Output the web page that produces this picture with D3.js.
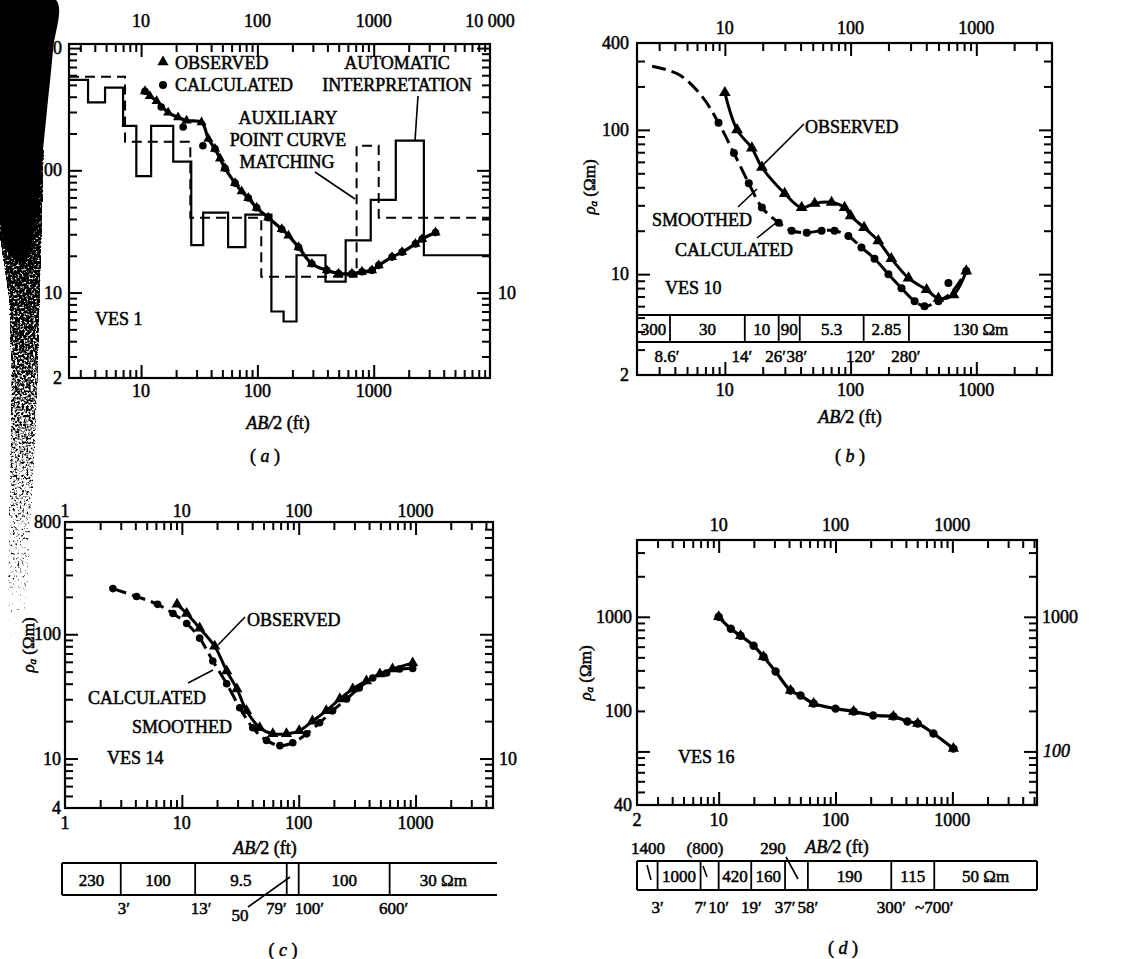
<!DOCTYPE html>
<html><head><meta charset="utf-8">
<script src="https://cdn.jsdelivr.net/npm/d3@7"></script>
<style>
body{margin:0;background:#fff}
text{font-family:"Liberation Serif","Times New Roman",serif;fill:#000;stroke:#000;stroke-width:0.5px}
</style>
</head><body>
<script>
// ================= DATA =================
// ---- Panel (a) VES 1 ----
const aObsX = [10.8, 11.9, 13.6, 17.1, 20.8, 24.6, 33.1, 37.9, 43.2, 47.7, 52.7, 64.3, 73.3, 83.6, 98.7, 124, 162, 185, 226, 294, 396, 499, 650, 793, 967, 1104, 1438, 1754, 2286, 2608, 3400];
const aObsY = [444, 405, 369, 297, 271, 255, 247, 181, 150, 125, 104, 78.5, 67.2, 59.4, 49.4, 41, 33, 29.2, 23.5, 17.2, 15.2, 14.3, 14.3, 14.8, 15.2, 16.7, 19.5, 21.4, 25, 27.4, 31];
const aCalcX = [10.8, 14.9, 23, 34, 43.2, 52.7, 64.3, 83.6, 98.7, 124, 162, 226, 294, 396, 499, 650, 793, 967, 1104, 1438, 1754, 2286, 2608, 3400];
const aCalcY = [444, 330, 226, 159, 150, 104, 78.5, 59.4, 49.4, 41, 33, 23.5, 17.2, 15.2, 14.3, 14.3, 14.8, 15.2, 16.7, 19.5, 21.4, 25, 27.4, 31];
// automatic interpretation (solid steps): layer resistivities and bottom depths (ft)
const aAutoRho = [550, 360, 475, 231, 89.5, 231, 118, 24.4, 45, 23.5, 43.4, 7.0, 5.8, 20.2, 12.3, 26.7, 57.3, 175, 20.2];
const aAutoDepth = [3.5, 4.9, 7.0, 9.1, 12.2, 18.9, 27, 34.2, 56, 78.8, 132, 168, 217, 385, 574, 943, 1549, 2700];
// auxiliary point curve matching (dashed steps)
const aAuxRho = [584, 171, 41, 13.5, 159, 41];
const aAuxDepth = [7.28, 26.5, 108, 713, 1104];
const aTopTicks = [10, 100, 1000, 10000], aTopLabels = ["10", "100", "1000", "10 000"];
const aBotTicks = [10, 100, 1000], aBotLabels = ["10", "100", "1000"];
const aLeftTicks = [1000, 100, 10, 2], aLeftLabels = ["1000", "100", "10", "2"];
const aRightTicks = [10], aRightLabels = ["10"];

// ---- Panel (b) VES 10 ----
const bObsX = [10, 12.5, 16.4, 19.7, 29.9, 40.8, 51.8, 70.6, 89.6, 100, 128, 166, 211, 289, 402, 500, 658, 832];
const bObsY = [181, 100, 74.8, 55, 36.2, 28.9, 30.9, 31.4, 28.9, 25.4, 21, 17.0, 12.8, 9.4, 7.8, 6.8, 7.2, 10.5];
const bCalcX = [2.64, 4.3, 6.6, 8.9, 11.8, 15.5, 19.7, 26.8, 34, 44.8, 58.8, 74.6, 96, 122, 155, 200, 254, 323, 387, 500, 630, 832];
const bCalcY = [276, 242, 170, 112, 69, 42.6, 29, 22.7, 20, 19.4, 20, 20, 18.4, 15.3, 12.8, 10, 8.0, 6.5, 6.0, 6.5, 7.4, 10.5];
const bDotX = [8.9, 11.8, 15.5, 19.7, 26.8, 34, 44.8, 58.8, 74.6, 96, 122, 155, 200, 254, 323, 387, 500, 600, 832];
const bDotY = [112, 69, 42.6, 29, 22.7, 20, 19.4, 20, 20, 18.4, 15.3, 12.8, 10, 8.0, 6.5, 6.0, 6.5, 8.7, 10.5];
const bLayerRho = ["300", "30", "10", "90", "5.3", "2.85", "130 Ωm"];
const bLayerDepth = ["8.6′", "14′", "26′", "38′", "120′", "280′"];
const bDividerAt = [3.66, 14.4, 26.8, 39.4, 127, 291];
const bTopTicks = [10, 100, 1000], bTopLabels = ["10", "100", "1000"];
const bLeftTicks = [400, 100, 10, 2], bLeftLabels = ["400", "100", "10", "2"];

// ---- Panel (c) VES 14 ----
const cObsX = [9.1, 11, 14.2, 19.1, 24.2, 29.6, 35.8, 46.4, 60, 78.6, 101, 131, 172, 225, 290, 380, 495, 635, 945];
const cObsY = [174, 147, 112, 80, 50.6, 36.3, 24.2, 17.7, 15.8, 15.8, 16.7, 20, 24.2, 30.2, 36.3, 42.1, 47.9, 52.5, 58.6];
const cCalcX = [2.57, 4.1, 6.2, 8.4, 11.0, 14.2, 18.4, 24.2, 31.3, 40.4, 53, 69, 89, 117, 151, 195, 257, 330, 430, 565, 730, 945];
const cCalcY = [233, 201, 174, 147, 122, 93, 61, 40, 25.6, 17.7, 14, 12.7, 13.4, 15.8, 19.4, 24.2, 30.2, 37, 44.5, 48.8, 52.5, 53];
const cLayerRho = ["230", "100", "9.5", "", "100", "30 Ωm"];
const cDepth = [3, 13, 79, 100, 600];
const cDepthLabels = ["3′", "13′", "79′", "100′", "600′"];
const cTicks = [1, 10, 100, 1000], cTickLabels = ["1", "10", "100", "1000"];
const cLeftTicks = [800, 100, 10, 4], cLeftLabels = ["800", "100", "10", "4"];

// ---- Panel (d) VES 16 ----
const dX = [10, 12.7, 15.4, 19.9, 24.2, 30.7, 41.2, 50.2, 64.9, 100, 143, 210, 313, 412, 505, 688, 1020];
const dY = [1000, 815, 723, 610, 505, 392, 283, 260, 227, 208, 198, 185, 182, 167, 161, 136, 105];
const dLayerRho = ["", "1000", "", "420", "160", "", "190", "115", "50 Ωm"];
const dDepth = [3, 7, 10, 19, 37, 58, 300, 700];
const dDepthLabels = ["3′", "7′", "10′", "19′", "37′", "58′", "300′", "~700′"];
const dTopTicks = [10, 100, 1000], dTopLabels = ["10", "100", "1000"];
const dBotTicks = [2, 10, 100, 1000], dBotLabels = ["2", "10", "100", "1000"];
const dLeftAt = [1000, 200, 40], dLeftLabels = ["1000", "100", "40"];

// ================= DRAWING =================
const svg = d3.select("body").append("svg").attr("width", 1142).attr("height", 959);
const FS = 18;

function txt(x, y, s, o = {}) {
  const t = svg.append("text").attr("x", x).attr("y", y)
    .attr("font-size", o.size || FS).attr("text-anchor", o.anchor || "middle")
    .attr("dominant-baseline", "central");
  if (o.italic) t.attr("font-style", "italic");
  t.text(s);
  return t;
}
function seg(x1, y1, x2, y2, w = 1.6) {
  svg.append("line").attr("x1", x1).attr("y1", y1).attr("x2", x2).attr("y2", y2)
    .attr("stroke", "#000").attr("stroke-width", w);
}
function logTicks(d) {
  const out = [];
  for (let e = Math.floor(Math.log10(d[0])) - 1; e <= Math.ceil(Math.log10(d[1])); e++)
    for (let k = 1; k <= 9; k++) {
      const v = k * Math.pow(10, e);
      if (v >= d[0] * 1.001 && v <= d[1] * 0.999) out.push({ v, major: k === 1 });
    }
  return out;
}
function panel(p) {
  const x = d3.scaleLog().domain(p.xd).range([p.x0, p.x1]);
  const y = d3.scaleLog().domain(p.yd).range([p.y1, p.y0]);
  const g = svg.append("g");
  g.append("rect").attr("x", p.x0).attr("y", p.y0).attr("width", p.x1 - p.x0)
    .attr("height", p.y1 - p.y0).attr("fill", "none").attr("stroke", "#000").attr("stroke-width", 2.2);
  const xt = logTicks(p.xd), yt = logTicks(p.yd);
  const specs = [
    [d3.axisBottom, x, xt, `translate(0,${p.y1})`],
    [d3.axisTop, x, xt, `translate(0,${p.y0})`],
    [d3.axisLeft, y, yt, `translate(${p.x0},0)`],
    [d3.axisRight, y, yt, `translate(${p.x1},0)`]];
  specs.forEach(([ax, sc, vals, tr]) => {
    [[true, 13], [false, 8]].forEach(([maj, L]) => {
      g.append("g").attr("transform", tr)
        .call(ax(sc).tickValues(vals.filter(t => t.major === maj).map(t => t.v)).tickSize(-L).tickFormat(""))
        .call(s => s.select(".domain").remove())
        .selectAll("line").attr("stroke", "#000").attr("stroke-width", 2);
    });
  });
  return { x, y, p };
}
function xLabels(sc, vals, labs, yPos) {
  svg.append("g").selectAll("text").data(vals).join("text")
    .attr("x", d => sc(d)).attr("y", yPos).attr("text-anchor", "middle")
    .attr("dominant-baseline", "central").attr("font-size", FS).text((d, i) => labs[i]);
}
function yLabels(sc, vals, labs, xPos, anchor, italic) {
  svg.append("g").selectAll("text").data(vals).join("text")
    .attr("x", xPos).attr("y", d => sc(d)).attr("text-anchor", anchor)
    .attr("dominant-baseline", "central").attr("font-size", FS)
    .attr("font-style", italic ? "italic" : null).text((d, i) => labs[i]);
}
function curve(P, xs, ys, w, dash) {
  const line = d3.line().x(d => P.x(d[0])).y(d => P.y(d[1])).curve(d3.curveCatmullRom.alpha(0.5));
  svg.append("path").attr("d", line(xs.map((v, i) => [v, ys[i]])))
    .attr("fill", "none").attr("stroke", "#000").attr("stroke-width", w)
    .attr("stroke-dasharray", dash || null).attr("stroke-linejoin", "round");
}
function dots(P, xs, ys, r = 4) {
  svg.append("g").selectAll("circle").data(xs).join("circle")
    .attr("cx", d => P.x(d)).attr("cy", (d, i) => P.y(ys[i])).attr("r", r).attr("fill", "#000");
}
function tris(P, xs, ys, size = 55) {
  const sym = d3.symbol().type(d3.symbolTriangle).size(size);
  svg.append("g").selectAll("path").data(xs).join("path").attr("d", sym)
    .attr("transform", (d, i) => `translate(${P.x(d)},${P.y(ys[i])})`).attr("fill", "#000");
}
function steps(P, rho, depth, w, dash) {
  const xs = [P.x.domain()[0], ...depth, P.x.domain()[1]];
  const pts = rho.map((r, i) => [xs[i], r]);
  pts.push([xs[xs.length - 1], rho[rho.length - 1]]);
  const line = d3.line().x(d => P.x(d[0])).y(d => P.y(d[1])).curve(d3.curveStepAfter);
  svg.append("path").attr("d", line(pts)).attr("fill", "none").attr("stroke", "#000")
    .attr("stroke-width", w).attr("stroke-dasharray", dash || null);
}
function abLabel(cx, cy) {
  const t = svg.append("text").attr("x", cx).attr("y", cy).attr("text-anchor", "middle")
    .attr("dominant-baseline", "central").attr("font-size", FS);
  t.append("tspan").attr("font-style", "italic").text("AB/");
  t.append("tspan").text("2 (ft)");
}
function caption(cx, cy, letter) {
  const t = svg.append("text").attr("x", cx).attr("y", cy).attr("text-anchor", "middle")
    .attr("dominant-baseline", "central").attr("font-size", FS);
  t.append("tspan").text("( ");
  t.append("tspan").attr("font-style", "italic").text(letter);
  t.append("tspan").text(" )");
}
function rhoLabel(cx, cy) {
  const t = svg.append("text").attr("transform", `translate(${cx},${cy}) rotate(-90)`)
    .attr("text-anchor", "middle").attr("dominant-baseline", "central").attr("font-size", 17);
  t.append("tspan").attr("font-style", "italic").text("ρ");
  t.append("tspan").attr("font-size", 11).attr("dy", 4).attr("font-style", "italic").text("a");
  t.append("tspan").attr("dy", -4).text(" (Ωm)");
}
function layerTable(P, bounds, labels, yTop, yBot, xLeft, xRight, closeRight) {
  svg.append("line").attr("x1", xLeft).attr("x2", xRight).attr("y1", yTop).attr("y2", yTop).attr("stroke", "#000").attr("stroke-width", 2);
  svg.append("line").attr("x1", xLeft).attr("x2", xRight).attr("y1", yBot).attr("y2", yBot).attr("stroke", "#000").attr("stroke-width", 2);
  seg(xLeft, yTop, xLeft, yBot, 2);
  if (closeRight) seg(xRight, yTop, xRight, yBot, 2);
  svg.append("g").selectAll("line").data(bounds).join("line")
    .attr("x1", d => P.x(d)).attr("x2", d => P.x(d)).attr("y1", yTop).attr("y2", yBot)
    .attr("stroke", "#000").attr("stroke-width", 1.8);
  const edges = [xLeft, ...bounds.map(b => P.x(b)), xRight];
  svg.append("g").selectAll("text").data(labels).join("text")
    .attr("x", (d, i) => (edges[i] + edges[i + 1]) / 2).attr("y", (yTop + yBot) / 2 + 1)
    .attr("text-anchor", "middle").attr("dominant-baseline", "central").attr("font-size", 17).text(d => d);
}

// ---------- scan shading on the left margin (drawn first, labels stay legible) ----------
const defs = svg.append("defs");
const lg = defs.append("linearGradient").attr("id", "scanGrad").attr("x1", 0).attr("y1", 0).attr("x2", 0).attr("y2", 1);
[[0, 0.95], [0.35, 0.82], [0.6, 0.66], [0.85, 0.5], [1, 0.3]].forEach(([o, a]) =>
  lg.append("stop").attr("offset", o).attr("stop-color", "#000").attr("stop-opacity", a));
const f = defs.append("filter").attr("id", "speckle").attr("x", 0).attr("y", 0).attr("width", 1).attr("height", 1)
  .attr("color-interpolation-filters", "sRGB");
f.append("feTurbulence").attr("type", "fractalNoise").attr("baseFrequency", 0.45).attr("numOctaves", 2).attr("seed", 4).attr("result", "noise");
f.append("feColorMatrix").attr("in", "noise").attr("type", "matrix")
  .attr("values", "0 0 0 0 0  0 0 0 0 0  0 0 0 0 0  1 0 0 0 0").attr("result", "na");
f.append("feComposite").attr("in", "SourceGraphic").attr("in2", "na").attr("operator", "arithmetic")
  .attr("k1", 0).attr("k2", 5).attr("k3", 5).attr("k4", -5.6);
const solidPoly = [[0, 0], [56, 0], [53, 50], [47, 110], [41, 170], [36, 220], [24, 262], [8, 252], [0, 220]];
svg.append("path").attr("d", d3.line().curve(d3.curveCatmullRomClosed)(solidPoly)).attr("fill", "#000");
const scanPoly = [[0, 150], [44, 150], [42, 230], [40, 300], [38, 380], [35, 450], [31, 520], [27, 600], [20, 660], [8, 660], [8, 560], [10, 460], [11, 380], [9, 300], [0, 240]];
svg.append("path").attr("d", d3.line()(scanPoly) + "Z").attr("fill", "url(#scanGrad)").attr("filter", "url(#speckle)");

// ---------- Panel (a) ----------
const A = panel({ x0: 69, x1: 490, y0: 44, y1: 378, xd: [2.4, 10000], yd: [2, 1080] });
xLabels(A.x, aTopTicks, aTopLabels, 21);
xLabels(A.x, aBotTicks, aBotLabels, 391);
yLabels(A.y, aLeftTicks, aLeftLabels, 62, "end");
yLabels(A.y, aRightTicks, aRightLabels, 498, "start");
steps(A, aAuxRho, aAuxDepth, 2, "10,6");
steps(A, aAutoRho, aAutoDepth, 2.2);
curve(A, aObsX, aObsY, 3.2);
tris(A, aObsX, aObsY, 45);
dots(A, aCalcX, aCalcY, 3.8);
// legend
svg.append("path").attr("d", d3.symbol().type(d3.symbolTriangle).size(55)()).attr("transform", "translate(163,62)");
svg.append("circle").attr("cx", 163).attr("cy", 85).attr("r", 4);
txt(175, 63, "OBSERVED", { anchor: "start" });
txt(175, 85, "CALCULATED", { anchor: "start" });
txt(397, 63, "AUTOMATIC");
txt(397, 85, "INTERPRETATION");
seg(418, 96, 415, A.y(175));
txt(288, 118, "AUXILIARY");
txt(288, 140, "POINT CURVE");
txt(287, 162, "MATCHING");
seg(315, 172, 355, 199);
txt(95, 319, "VES 1", { anchor: "start" });
abLabel(278, 423);
caption(265, 456, "a");

// ---------- Panel (b) ----------
const B = panel({ x0: 637, x1: 1052, y0: 43, y1: 375, xd: [2, 4000], yd: [2, 400] });
xLabels(B.x, bTopTicks, bTopLabels, 28);
xLabels(B.x, bTopTicks, bTopLabels, 390);
yLabels(B.y, bLeftTicks, bLeftLabels, 629, "end");
rhoLabel(589, 187);
layerTable(B, bDividerAt, bLayerRho, 315, 342, 637, 1052, false);
svg.append("g").selectAll("text").data(bDividerAt).join("text")
  .attr("x", d => B.x(d) - 3).attr("y", 356).attr("text-anchor", "middle")
  .attr("dominant-baseline", "central").attr("font-size", 17).text((d, i) => bLayerDepth[i]);
curve(B, bCalcX, bCalcY, 3, "14,6");
curve(B, bObsX, bObsY, 3);
tris(B, bObsX, bObsY, 60);
dots(B, bDotX, bDotY, 4);
txt(805, 127, "OBSERVED", { anchor: "start" });
seg(804, 124, 762, 166);
txt(652, 220, "SMOOTHED", { anchor: "start" });
seg(738, 207, 757, 189);
txt(675, 250, "CALCULATED", { anchor: "start" });
seg(757, 238, 777, 222);
txt(665, 288, "VES 10", { anchor: "start" });
abLabel(850, 417);
caption(850, 456, "b");

// ---------- Panel (c) ----------
const C = panel({ x0: 65, x1: 493, y0: 522, y1: 808, xd: [1, 4600], yd: [4, 800] });
xLabels(C.x, cTicks, cTickLabels, 511);
xLabels(C.x, cTicks, cTickLabels, 823);
yLabels(C.y, cLeftTicks, cLeftLabels, 61, "end");
yLabels(C.y, [10], ["10"], 499, "start");
rhoLabel(28, 645);
curve(C, cCalcX, cCalcY, 3, "14,6");
curve(C, cObsX, cObsY, 3);
tris(C, cObsX, cObsY, 55);
dots(C, cCalcX, cCalcY, 3.8);
txt(247, 620, "OBSERVED", { anchor: "start" });
seg(245, 617, 218, 645);
txt(88, 698, "CALCULATED", { anchor: "start" });
seg(188, 683, 213, 670);
txt(132, 727, "SMOOTHED", { anchor: "start" });
txt(107, 758, "VES 14", { anchor: "start" });
abLabel(265, 848);
layerTable(C, cDepth, cLayerRho, 863, 895, C.x(1) - 3, 497, false);
const cAnch = ["middle", "middle", "end", "start", "middle"];
const cOff = [3, 6, 0, -4, 4];
svg.append("g").selectAll("text").data(cDepth).join("text")
  .attr("x", (d, i) => C.x(d) + cOff[i]).attr("y", 908).attr("text-anchor", (d, i) => cAnch[i])
  .attr("dominant-baseline", "central").attr("font-size", 17).text((d, i) => cDepthLabels[i]);
txt(240, 915, "50", { size: 17 });
seg(248, 907, 290, 877);
caption(283, 950, "c");

// ---------- Panel (d) ----------
const D = panel({ x0: 637, x1: 1037, y0: 540, y1: 805, xd: [2, 5300], yd: [40, 3720] });
xLabels(D.x, dTopTicks, dTopLabels, 525);
xLabels(D.x, dBotTicks, dBotLabels, 820);
yLabels(D.y, dLeftAt, dLeftLabels, 632, "end");
yLabels(D.y, [1000], ["1000"], 1042, "start");
yLabels(D.y, [100], ["100"], 1043, "start", true);
rhoLabel(585, 673);
curve(D, dX, dY, 3.2);
dots(D, dX, dY, 4.2);
tris(D, dX.filter((d, i) => i % 2 === 0), dY.filter((d, i) => i % 2 === 0), 55);
txt(678, 757, "VES 16", { anchor: "start" });
abLabel(837, 847);
layerTable(D, dDepth, dLayerRho, 861, 890, D.x(2), D.x(5300), true);
svg.append("g").selectAll("text").data(dDepth).join("text")
  .attr("x", d => D.x(d)).attr("y", 907).attr("text-anchor", "middle")
  .attr("dominant-baseline", "central").attr("font-size", 17).text((d, i) => dDepthLabels[i]);
txt(648, 848, "1400", { size: 17 });
seg(647, 865, 651, 880);
txt(705, 848, "(800)", { size: 17 });
seg(703, 866, 707, 877);
txt(773, 848, "290", { size: 17 });
seg(786, 857, 798, 879);
caption(843, 948, "d");
</script>
</body></html>
